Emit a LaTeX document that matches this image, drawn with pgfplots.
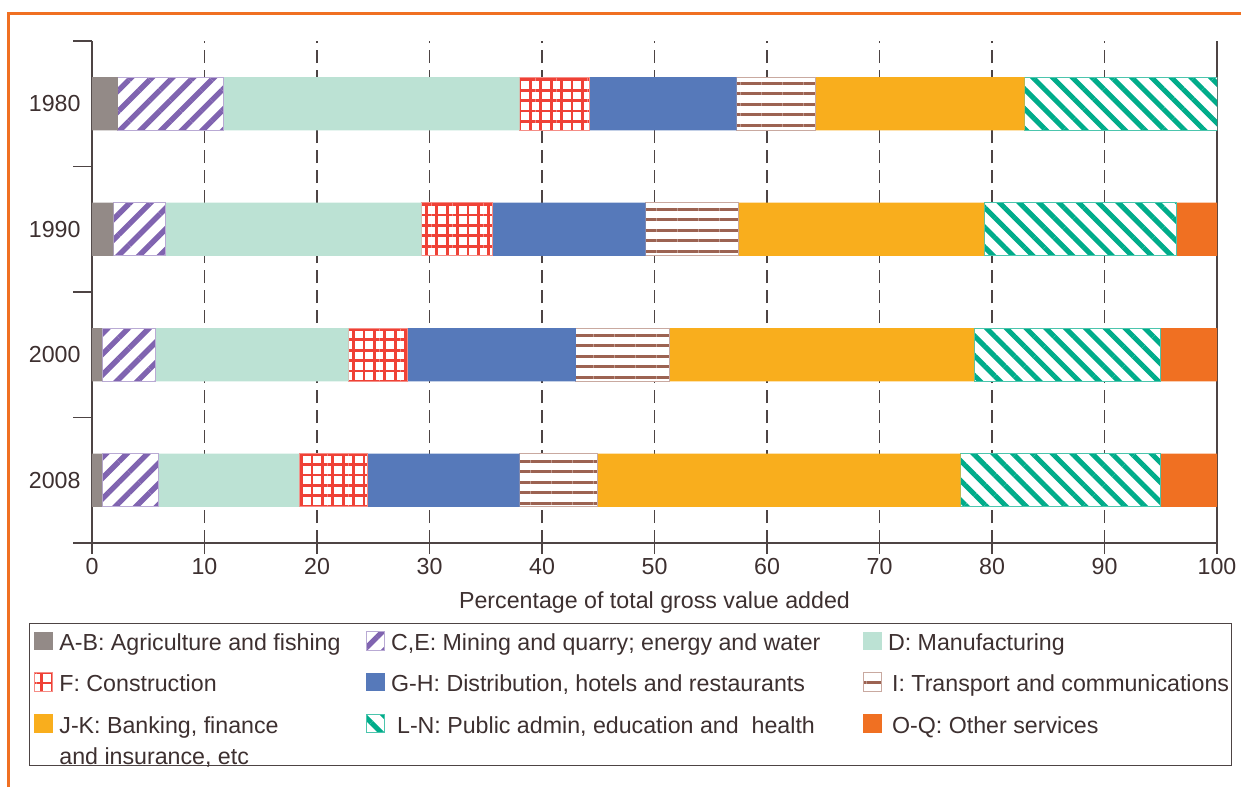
\documentclass[border=0pt]{standalone}
\usepackage{fontspec}
\setmainfont{Liberation Sans}
\usepackage{pgfplots}
\pgfplotsset{compat=1.18}
\usepackage{pgfplotstable}
\usetikzlibrary{patterns.meta}

\definecolor{cAB}{RGB}{147,138,135}
\definecolor{cCE}{RGB}{128,100,176}
\definecolor{cD}{RGB}{188,226,212}
\definecolor{cF}{RGB}{239,65,54}
\definecolor{cGH}{RGB}{86,121,186}
\definecolor{cI}{RGB}{156,99,82}
\definecolor{cJK}{RGB}{249,174,29}
\definecolor{cLN}{RGB}{0,172,138}
\definecolor{cOQ}{RGB}{240,112,34}
\definecolor{textcol}{RGB}{61,48,48}
\definecolor{axiscol}{RGB}{77,68,68}

\newcommand\chartfont{\fontsize{11.6}{14.5}\selectfont}
% legend text cells, fixed widths so the three columns line up
\newcommand\la[2][3pt]{\hspace*{#1}\makebox[153.1pt][l]{#2}}
\newcommand\lb[2][3pt]{\hspace*{#1}\makebox[232.75pt][l]{#2}}
\newcommand\lc[2][3pt]{\hspace*{#1}\makebox[167.6pt][l]{#2}}

% share of gross value added, per year (y: 3=1980 ... 0=2008)
\pgfplotstableread{
y  AB   CE   D     F    GH    I    JK    LN    OQ
3  2.3  9.4  26.3  6.2  13.1  7.0  18.6  17.1  0.0
2  1.9  4.6  22.8  6.3  13.6  8.3  21.8  17.1  3.6
1  0.9  4.7  17.2  5.2  15.0  8.3  27.1  16.6  5.0
0  0.9  5.0  12.5  6.1  13.5  6.9  32.3  17.8  5.0
}\gva

\begin{document}
\begin{tikzpicture}
\useasboundingbox (0,0) rectangle (620.5pt,-393.5pt);

\begin{axis}[
  at={(46pt,-271.5pt)}, anchor=south west,
  scale only axis, width=562.5pt, height=251pt,
  xbar stacked, bar width=26.7pt,
  xmin=0, xmax=100, ymin=-0.5, ymax=3.5,
  axis x line=bottom, axis y line=box,
  axis line style={-, draw=axiscol, line width=0.8pt},
  every outer x axis line/.append style={-},
  every outer y axis line/.append style={-},
  tick align=outside,
  tick style={draw=axiscol, line width=0.8pt},
  xtick={0,10,...,100},
  xtick style={/pgfplots/major tick length=5.5pt},
  ytick={-0.5,0.5,1.5,2.5,3.5}, yticklabels={,,,,},
  ytick pos=left,
  ytick style={/pgfplots/major tick length=9.5pt},
  extra y ticks={0,1,2,3},
  extra y tick labels={2008,2000,1990,1980},
  extra y tick style={major tick length=0pt, tick style={draw=none},
    yticklabel style={xshift=-2.2pt}},
  xmajorgrids,
  major grid style={draw=axiscol, line width=0.85pt, dash pattern=on 6.5pt off 3.5pt},
  /pgf/number format/assume math mode=true,
  tick label style={font=\chartfont, text=textcol},
  label style={font=\chartfont, text=textcol},
  xlabel={Percentage of total gross value added},
  xlabel style={yshift=-1.5pt},
  legend columns=3,
  legend cell align=left,
  legend image code/.code={\path[#1] (0.25pt,0.25pt) rectangle (9.5pt,9.5pt);},
  legend style={at={(-0.056,-0.1594)}, anchor=north west,
    draw=axiscol, line width=0.6pt, font=\chartfont, text=textcol,
    inner xsep=2.15pt, inner ysep=3.75pt, row sep=9.35pt, column sep=0pt,
    nodes={inner sep=0pt}, cells={anchor=base west}},
]
\addplot[fill=cAB, draw=none] table[x=AB, y=y] {\gva};
\addlegendentry{\la{A-B: Agriculture and fishing}}

\addplot[fill=white, draw=cCE!55, line width=0.5pt,
  postaction={pattern={Lines[angle=45,distance=7.3pt,line width=2.7pt]}, pattern color=cCE}]
  table[x=CE, y=y] {\gva};
\addlegendentry{\lb{C,E: Mining and quarry; energy and water}}

\addplot[fill=cD, draw=none] table[x=D, y=y] {\gva};
\addlegendentry{\lc{D: Manufacturing}}

\addplot[fill=white, draw=cF!60, line width=0.5pt,
  postaction={pattern={Hatch[angle=0,distance=5.2pt,line width=1.35pt]}, pattern color=cF}]
  table[x=F, y=y] {\gva};
\addlegendentry{\la{F: Construction}}

\addplot[fill=cGH, draw=none] table[x=GH, y=y] {\gva};
\addlegendentry{\lb{G-H: Distribution, hotels and restaurants}}

\addplot[fill=white, draw=cI!55, line width=0.5pt,
  postaction={pattern={Lines[angle=0,distance=5.25pt,line width=1.5pt]}, pattern color=cI}]
  table[x=I, y=y] {\gva};
\addlegendentry{\lc[5pt]{I: Transport and communications}}

\addplot[fill=cJK, draw=none] table[x=JK, y=y] {\gva};
\addlegendentry{\la{J-K: Banking, finance}}

\addplot[fill=white, draw=cLN!70, line width=0.5pt,
  postaction={pattern={Lines[angle=-45,distance=7.0pt,line width=2.5pt]}, pattern color=cLN}]
  table[x=LN, y=y] {\gva};
\addlegendentry{\lb[6pt]{L-N: Public admin, education and\ \ health}}

\addplot[fill=cOQ, draw=none] table[x=OQ, y=y] {\gva};
\addlegendentry{\lc[5pt]{O-Q: Other services}}

% second line of the J-K entry
\addlegendimage{empty legend}
\addlegendentry{\hspace*{3pt}\raisebox{-5pt}[0pt][3.75pt]{and insurance, etc}}
\end{axis}

% orange frame, open at the right and bottom
\draw[cOQ, line width=1.35pt] (4.35pt,-393.5pt) -- (4.35pt,-6.65pt) -- (620.5pt,-6.65pt);
\end{tikzpicture}
\end{document}
